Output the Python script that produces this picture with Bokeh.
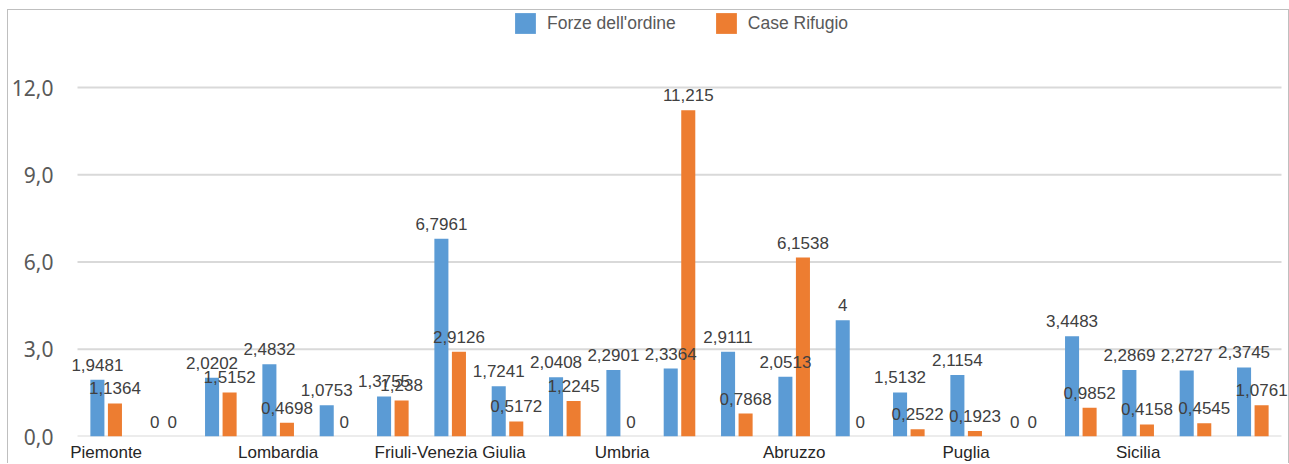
from bokeh.plotting import figure
from bokeh.models import ColumnDataSource, FixedTicker, Legend, LegendItem, Range1d, LabelSet
from bokeh.core.properties import value
from bokeh.embed import file_html
from bokeh.resources import INLINE

regions = ["Piemonte", "Valle d'Aosta", "Liguria", "Lombardia", "Trentino-Alto Adige", "Veneto",
           "Friuli-Venezia Giulia", "Emilia-Romagna", "Toscana", "Umbria", "Marche", "Lazio",
           "Abruzzo", "Molise", "Campania", "Puglia", "Basilicata", "Calabria", "Sicilia",
           "Sardegna", "Italia"]
forze = [1.9481, 0, 2.0202, 2.4832, 1.0753, 1.3755, 6.7961, 1.7241, 2.0408, 2.2901, 2.3364,
         2.9111, 2.0513, 4, 1.5132, 2.1154, 0, 3.4483, 2.2869, 2.2727, 2.3745]
case = [1.1364, 0, 1.5152, 0.4698, 0, 1.238, 2.9126, 0.5172, 1.2245, 0, 11.215,
        0.7868, 6.1538, 0, 0.2522, 0.1923, 0, 0.9852, 0.4158, 0.4545, 1.0761]
y_ticks = [0, 3, 6, 9, 12]
shown_label_idx = [0, 3, 6, 9, 12, 15, 18]

BLUE = "#5B9BD5"
ORANGE = "#ED7D31"
OFF = 0.153
BW = 0.245

n = len(regions)
cat_lo, cat_hi = -0.5, n - 0.5
PX_PER_CAT = 57.333
# small margin beyond the category area so that labels at the edges are not clipped
x_start = cat_lo - 7 / PX_PER_CAT
x_end = cat_lo + 1213 / PX_PER_CAT


def fmt(v):
    return f"{v:g}".replace(".", ",")


idx = list(range(n))
src_f = ColumnDataSource(dict(x=[i - OFF for i in idx], top=forze, lab=[fmt(v) for v in forze]))
src_c = ColumnDataSource(dict(x=[i + OFF for i in idx], top=case, lab=[fmt(v) for v in case]))

p = figure(width=1282, height=454, output_backend="svg", toolbar_location=None,
           x_range=Range1d(x_start, x_end), y_range=Range1d(0, 14.648),
           min_border_left=60, min_border_right=0, min_border_top=0, min_border_bottom=27)
p.styles = {"margin-left": "7px", "margin-top": "9px",
            "border-top": "1px solid #bfbfbf", "border-left": "1px solid #bfbfbf",
            "border-right": "1px solid #bfbfbf"}
p.outline_line_color = None
p.background_fill_color = "white"
p.border_fill_color = "white"

p.xgrid.visible = False
p.ygrid.visible = False
# horizontal gridlines spanning the category area only
p.segment(x0=[cat_lo] * len(y_ticks), x1=[cat_hi] * len(y_ticks), y0=y_ticks, y1=y_ticks,
          line_color="#d9d9d9", line_width=2)

p.yaxis.ticker = FixedTicker(ticks=y_ticks)
p.yaxis.major_label_overrides = {t: f"{t},0" for t in y_ticks}
p.yaxis.axis_line_color = None
p.yaxis.major_tick_line_color = None
p.yaxis.minor_tick_line_color = None
p.yaxis.major_tick_out = 0
p.yaxis.major_tick_in = 0
p.yaxis.major_label_standoff = 17
p.yaxis.major_label_text_font = "Noto Sans"
p.yaxis.major_label_text_font_size = "21px"
p.yaxis.major_label_text_color = "#595959"

p.xaxis.ticker = FixedTicker(ticks=shown_label_idx)
p.xaxis.major_label_overrides = {i: regions[i] for i in shown_label_idx}
p.xaxis.axis_line_color = None
p.xaxis.major_tick_line_color = None
p.xaxis.minor_tick_line_color = None
p.xaxis.major_tick_out = 0
p.xaxis.major_tick_in = 0
p.xaxis.major_label_standoff = 6
p.xaxis.major_label_text_font = "Liberation Sans"
p.xaxis.major_label_text_font_size = "17px"
p.xaxis.major_label_text_color = "#262626"

rf = p.vbar(x="x", top="top", width=BW, bottom=0, source=src_f, fill_color=BLUE, line_color=None)
rc = p.vbar(x="x", top="top", width=BW, bottom=0, source=src_c, fill_color=ORANGE, line_color=None)

for s in (src_f, src_c):
    p.add_layout(LabelSet(x="x", y="top", text="lab", source=s,
                          text_font=value("Liberation Sans"),
                          text_font_size=value("17px"), text_color=value("#404040"),
                          text_align="center", text_baseline="bottom", y_offset=9))

legend = Legend(items=[LegendItem(label="Forze dell'ordine", renderers=[rf]),
                       LegendItem(label="Case Rifugio", renderers=[rc])],
                location="top_center", orientation="horizontal")
legend.border_line_color = None
legend.background_fill_alpha = 0
legend.label_text_font = "Liberation Sans"
legend.label_text_font_size = "17.5px"
legend.label_text_color = "#595959"
legend.glyph_width = 26
legend.glyph_height = 26
legend.label_standoff = 9
legend.spacing = 37
legend.margin = 0
legend.padding = 0
p.add_layout(legend, "center")

open("out.html", "w").write(file_html(p, INLINE))
